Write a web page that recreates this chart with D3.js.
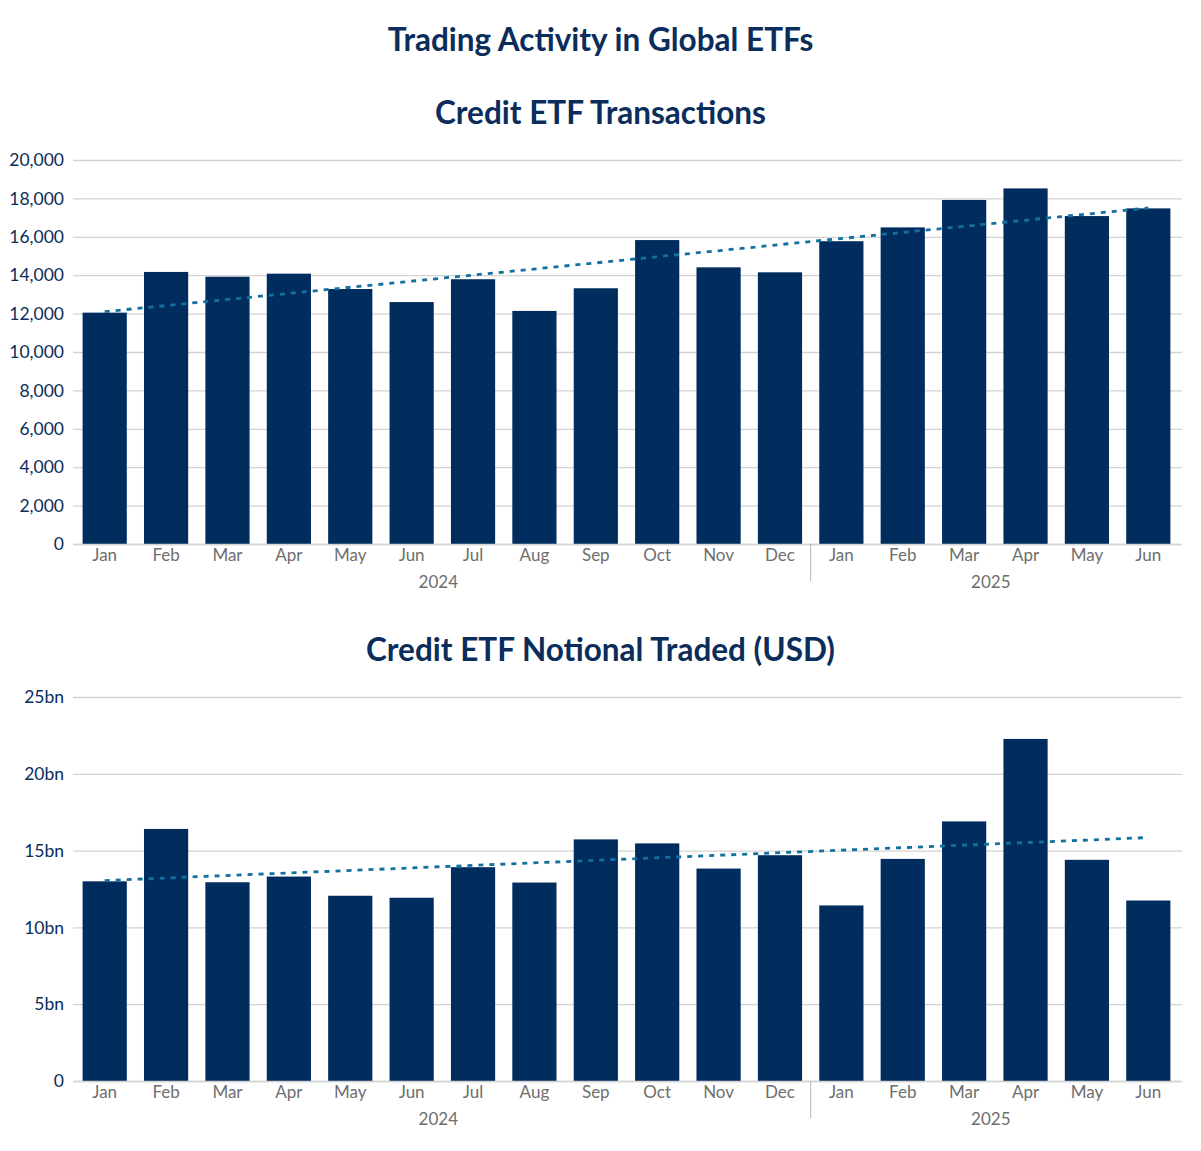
<!DOCTYPE html>
<html>
<head>
<meta charset="utf-8">
<script src="https://cdn.jsdelivr.net/npm/d3@7"></script>
<style>
  body { margin: 0; background: #fff; }
  text { font-family: Lato, "Open Sans", sans-serif; }
  .title { font-weight: 700; fill: #0b2d5b; }
  .ytick text { fill: #0b2d5b; font-size: 17.5px; }
  .xtick text { fill: #6e6e6e; font-size: 17px; }
</style>
</head>
<body>
<svg width="1201" height="1151"></svg>
<script>
// months on the category axis
var months = ["Jan", "Feb", "Mar", "Apr", "May", "Jun", "Jul", "Aug", "Sep", "Oct", "Nov", "Dec",
              "Jan", "Feb", "Mar", "Apr", "May", "Jun"]
var years = [{ label: "2024", from: 0, to: 11 }, { label: "2025", from: 12, to: 17 }]

// Credit ETF transactions (count)
var transactions = [12050, 14170, 13920, 14080, 13280, 12600, 13790, 12140, 13320, 15830, 14410, 14150,
                    15770, 16490, 17920, 18520, 17080, 17480]
var transTicks = [0, 2000, 4000, 6000, 8000, 10000, 12000, 14000, 16000, 18000, 20000]
var transTrend = [12100, 17500]   // trendline at first / last month

// Credit ETF notional traded (bn USD)
var notional = [13.0, 16.41, 12.94, 13.31, 12.06, 11.93, 13.92, 12.92, 15.73, 15.47, 13.83, 14.7,
                11.43, 14.46, 16.9, 22.27, 14.4, 11.75]
var notionalTicks = [0, 5, 10, 15, 20, 25]
var notionalTrend = [13.05, 15.85]

var svg = d3.select("svg")
var width = 1201

var barColor = "#002d5e",
    trendColor = "#14709f",
    gridColor = "#d3d3d3"

svg.append("text")
    .attr("class", "title")
    .attr("x", width / 2).attr("y", 51)
    .attr("text-anchor", "middle")
    .style("font-size", "31.5px")
    .text("Trading Activity in Global ETFs")

function drawChart(top, title, values, ticks, trend, fmt) {
    var left = 73, right = 1182, plotTop = top + 50, plotBottom = top + 434
    var idx = values.map((d, i) => i)

    svg.append("text")
        .attr("class", "title")
        .attr("x", width / 2).attr("y", top + 14)
        .attr("text-anchor", "middle")
        .style("font-size", "31.5px")
        .text(title)

    var x = d3.scaleBand()
        .domain(idx)
        .range([left + 1, right - 3])
        .paddingInner(0.28)
        .paddingOuter(0.14)

    var y = d3.scaleLinear()
        .domain([0, d3.max(ticks)])
        .range([plotBottom, plotTop])

    // gridlines + y labels
    var yAxis = svg.append("g")
        .attr("class", "ytick")
        .attr("transform", "translate(" + left + ",0)")
        .call(d3.axisLeft(y).tickValues(ticks).tickSize(-(right - left)).tickPadding(9).tickFormat(fmt))
    yAxis.select(".domain").remove()
    yAxis.selectAll("line").attr("stroke", gridColor).attr("stroke-width", 1.3)

    // bars
    svg.append("g")
        .selectAll("rect")
        .data(values)
        .join("rect")
        .attr("x", (d, i) => x(i))
        .attr("y", d => y(d))
        .attr("width", x.bandwidth())
        .attr("height", d => y(0) - y(d))
        .attr("fill", barColor)

    // month labels
    var xAxis = svg.append("g")
        .attr("class", "xtick")
        .attr("transform", "translate(0," + plotBottom + ")")
        .call(d3.axisBottom(x).tickSize(0).tickPadding(5).tickFormat(i => months[i]))
    xAxis.select(".domain").attr("stroke", gridColor).attr("stroke-width", 1.3)

    // year labels and separator
    var step = x.step()
    svg.append("g")
        .selectAll("text")
        .data(years)
        .join("text")
        .attr("x", d => (x(d.from) + x(d.to) + x.bandwidth()) / 2 - 4)
        .attr("y", plotBottom + 44)
        .attr("text-anchor", "middle")
        .style("font-size", "17px")
        .attr("fill", "#6e6e6e")
        .text(d => d.label)

    var sepX = x(years[1].from) - (step - x.bandwidth()) / 2
    svg.append("line")
        .attr("x1", sepX).attr("x2", sepX)
        .attr("y1", plotBottom).attr("y2", plotBottom + 37)
        .attr("stroke", "#b5b5b5")

    // linear trendline
    var last = values.length - 1
    svg.append("line")
        .attr("x1", x(0) + x.bandwidth() / 2)
        .attr("x2", x(last) + x.bandwidth() / 2)
        .attr("y1", y(trend[0]))
        .attr("y2", y(trend[1]))
        .attr("stroke", trendColor)
        .attr("stroke-width", 2.8)
        .attr("stroke-dasharray", "5,6")
}

drawChart(110, "Credit ETF Transactions", transactions, transTicks, transTrend, d3.format(","))
drawChart(647, "Credit ETF Notional Traded (USD)", notional, notionalTicks, notionalTrend,
    d => d === 0 ? "0" : d + "bn")
</script>
</body>
</html>
